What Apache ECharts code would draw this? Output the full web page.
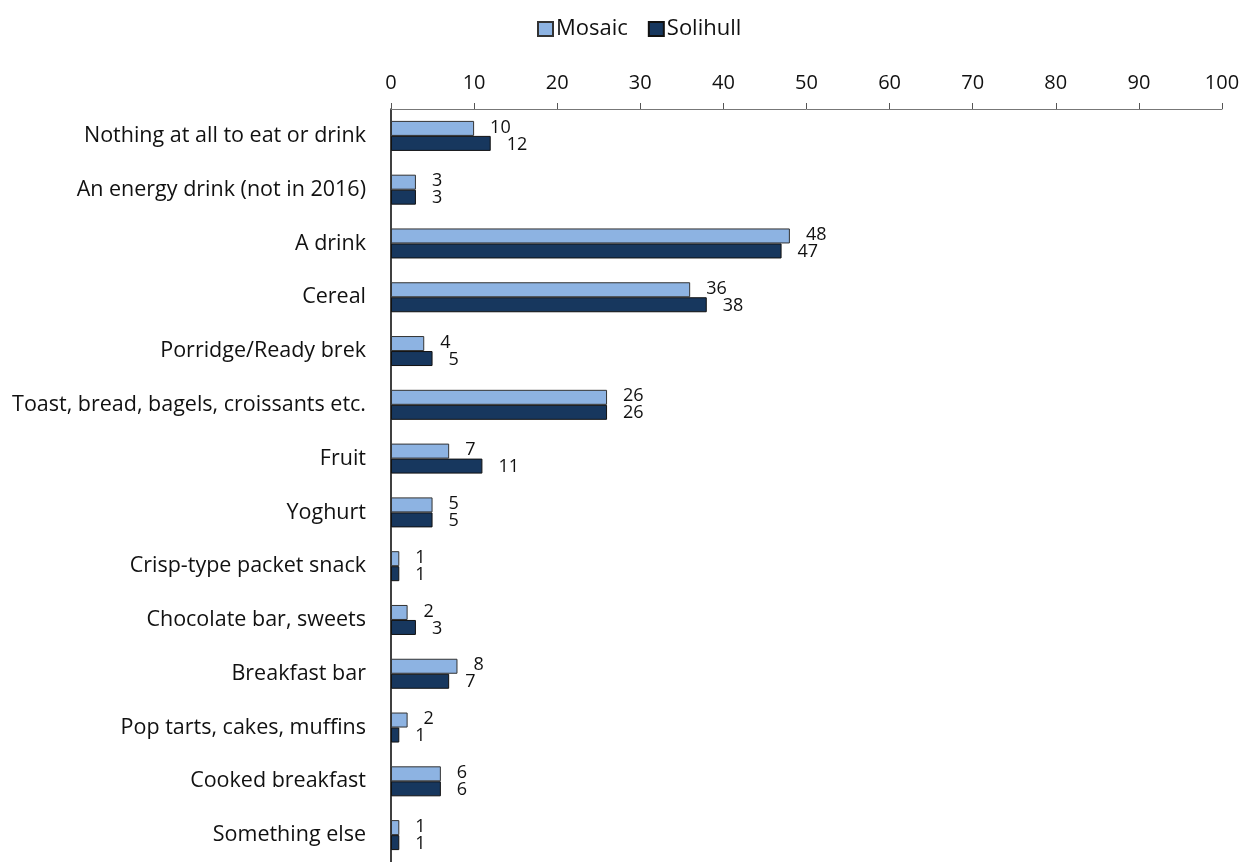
<!DOCTYPE html>
<html>
<head>
<meta charset="utf-8">
<script src="https://cdn.jsdelivr.net/npm/echarts@6/dist/echarts.min.js"></script>
<style>html,body{margin:0;padding:0;background:#fff}#c{width:1248px;height:862px}</style>
</head>
<body>
<div id="c"></div>
<script>
var categories = ["Nothing at all to eat or drink","An energy drink (not in 2016)","A drink","Cereal","Porridge/Ready brek","Toast, bread, bagels, croissants etc.","Fruit","Yoghurt","Crisp-type packet snack","Chocolate bar, sweets","Breakfast bar","Pop tarts, cakes, muffins","Cooked breakfast","Something else"];
var mosaic = [10,3,48,36,4,26,7,5,1,2,8,2,6,1];
var solihull = [12,3,47,38,5,26,11,5,1,3,7,1,6,1];
var font = '"Open Sans", Lato, sans-serif';
var chart = echarts.init(document.getElementById('c'));
chart.setOption({
  animation:false,
  textStyle:{fontFamily:font},
  legend:{top:13,left:532,icon:'rect',itemWidth:15,itemHeight:14,itemGap:20,
    textStyle:{fontSize:22,color:'#111',fontFamily:font,padding:[0,0,0,-2]},
    data:['Mosaic','Solihull']},
  grid:{left:391,right:26,top:109,bottom:-3,containLabel:false},
  xAxis:{type:'value',position:'top',min:0,max:100,interval:10,
    axisLine:{show:true,lineStyle:{color:'#777',width:1}},
    axisTick:{show:true,length:6,lineStyle:{color:'#555'}},
    splitLine:{show:false},
    axisLabel:{fontSize:20,color:'#111',margin:16,fontFamily:font}},
  yAxis:{type:'category',inverse:true,data:categories,
    axisLine:{show:true,lineStyle:{color:'#000',width:1.5}},
    axisTick:{show:false},
    axisLabel:{fontSize:21.5,color:'#111',margin:25,fontFamily:font}},
  series:[
    {name:'Mosaic',type:'bar',data:mosaic,barWidth:15,barGap:'0%',
      itemStyle:{color:'#8DB3E2',borderColor:'#333',borderWidth:1},
      label:{show:true,position:'right',distance:16,fontSize:18,color:'#111',fontFamily:font,offset:[0,-1]}},
    {name:'Solihull',type:'bar',data:solihull,barWidth:15,barGap:'0%',
      itemStyle:{color:'#17375E',borderColor:'#111',borderWidth:1},
      label:{show:true,position:'right',distance:16,fontSize:18,color:'#111',fontFamily:font,offset:[0,1]}}
  ]
});
</script>
</body>
</html>
